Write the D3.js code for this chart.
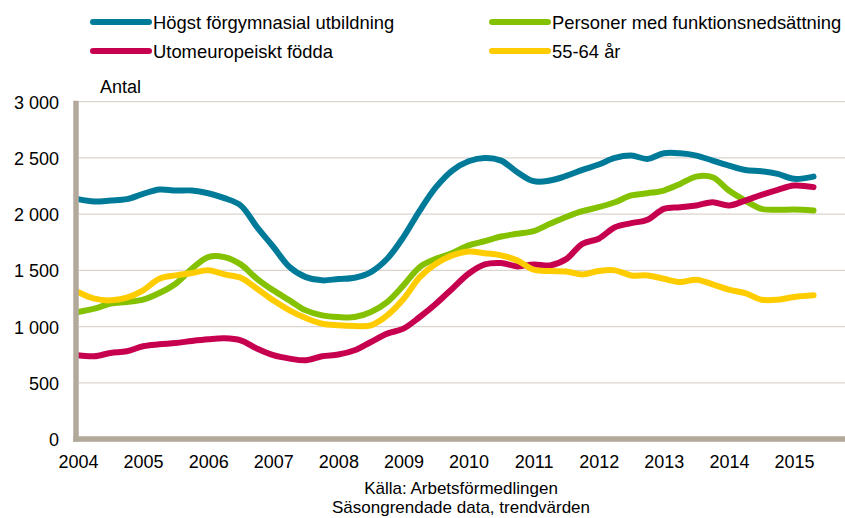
<!DOCTYPE html>
<html>
<head>
<meta charset="utf-8">
<script src="https://cdn.jsdelivr.net/npm/d3@7"></script>
<style>
  html, body { margin: 0; padding: 0; background: #fff; }
  svg { display: block; font-family: "Liberation Sans", Arial, sans-serif; }
</style>
</head>
<body>
<svg id="chart" width="845" height="518"></svg>
<script>
// ---- data ----
const time = [
  2004.0, 2004.25, 2004.5, 2004.75,
  2005.0, 2005.25, 2005.5, 2005.75,
  2006.0, 2006.25, 2006.5, 2006.75,
  2007.0, 2007.25, 2007.5, 2007.75,
  2008.0, 2008.25, 2008.5, 2008.75,
  2009.0, 2009.25, 2009.5, 2009.75,
  2010.0, 2010.25, 2010.5, 2010.75,
  2011.0, 2011.25, 2011.5, 2011.75,
  2012.0, 2012.25, 2012.5, 2012.75,
  2013.0, 2013.25, 2013.5, 2013.75,
  2014.0, 2014.25, 2014.5, 2014.75,
  2015.0, 2015.3
];
const hogstForgymnasial = [
  2133, 2112, 2121, 2133,
  2180, 2219, 2210, 2210,
  2186, 2142, 2077, 1884,
  1710, 1530, 1440, 1411,
  1423, 1434, 1485, 1603,
  1796, 2032, 2240, 2388,
  2470, 2500, 2476, 2373,
  2293, 2299, 2340, 2393,
  2441, 2500, 2521, 2491,
  2541, 2541, 2521, 2476,
  2432, 2393, 2382, 2358,
  2314, 2334
];
const utomeuropeiskt = [
  745, 736, 765, 780,
  825, 842, 854, 872,
  887, 896, 878, 804,
  745, 715, 700, 736,
  751, 789, 863, 937,
  982, 1085, 1203, 1337,
  1470, 1553, 1565, 1535,
  1553, 1544, 1600, 1736,
  1781, 1884, 1920, 1950,
  2047, 2062, 2077, 2106,
  2077, 2121, 2171, 2216,
  2254, 2240
];
const funktionsnedsattning = [
  1130, 1159, 1204, 1218,
  1239, 1298, 1381, 1514,
  1618, 1618, 1553, 1425,
  1322, 1233, 1144, 1100,
  1085, 1085, 1130, 1218,
  1366, 1529, 1603, 1653,
  1722, 1760, 1801, 1825,
  1849, 1914, 1975, 2026,
  2062, 2106, 2166, 2186,
  2210, 2269, 2334, 2328,
  2210, 2121, 2047, 2038,
  2041, 2032
];
const age5564 = [
  1307, 1248, 1233, 1257,
  1322, 1425, 1455, 1476,
  1500, 1464, 1434, 1337,
  1233, 1144, 1076, 1026,
  1011, 1005, 1011, 1100,
  1245, 1440, 1559, 1633,
  1668, 1653, 1633, 1588,
  1506, 1494, 1490, 1464,
  1494, 1500, 1455, 1455,
  1425, 1396, 1417, 1376,
  1328, 1298, 1239, 1239,
  1263, 1278
];
const seriesNames = ["Högst förgymnasial utbildning", "Personer med funktionsnedsättning", "Utomeuropeiskt födda", "55-64 år"];
const seriesValues = [hogstForgymnasial, funktionsnedsattning, utomeuropeiskt, age5564];
const seriesColors = ["#007a99", "#84c100", "#c6004f", "#ffcc00"];
const yTicks = [0, 500, 1000, 1500, 2000, 2500, 3000];
const xTicks = [2004, 2005, 2006, 2007, 2008, 2009, 2010, 2011, 2012, 2013, 2014, 2015];
const yTitle = "Antal";
const footer = ["Källa: Arbetsförmedlingen", "Säsongrendade data, trendvärden"];

// ---- layout ----
const svg = d3.select("#chart");
const x = d3.scaleLinear().domain([2004, 2015]).range([78, 794]);
const y = d3.scaleLinear().domain([0, 3000]).range([439, 101.7]);
const plotLeft = 76, plotRight = 845;
const axisColor = "#b3a99b";
const gridColor = "#dbd5ce";
const fontSize = 18;

const loc = d3.formatLocale({ decimal: ",", thousands: " ", grouping: [3], currency: ["", " kr"] });
const fmt = loc.format(",d");

// gridlines
svg.append("g").selectAll("line")
  .data(yTicks.filter(d => d > 0))
  .join("line")
  .attr("x1", plotLeft + 3).attr("x2", plotRight)
  .attr("y1", d => y(d)).attr("y2", d => y(d))
  .attr("stroke", gridColor).attr("stroke-width", 1.3);

// y axis labels
const yAxis = d3.axisLeft(y).tickValues(yTicks).tickFormat(fmt).tickSize(0).tickPadding(0);
const gy = svg.append("g").attr("transform", "translate(59,0)").call(yAxis);
gy.select(".domain").remove();
gy.selectAll("text")
  .attr("font-size", fontSize).attr("font-family", "Liberation Sans, Arial, sans-serif")
  .attr("fill", "#000").attr("dy", "0.36em").attr("x", 0);

// x axis labels
const xAxis = d3.axisBottom(x).tickValues(xTicks).tickFormat(d3.format("d")).tickSize(0).tickPadding(0);
const gx = svg.append("g").attr("transform", "translate(0,455)").call(xAxis);
gx.select(".domain").remove();
gx.selectAll("text")
  .attr("font-size", fontSize).attr("font-family", "Liberation Sans, Arial, sans-serif")
  .attr("fill", "#000").attr("dy", "0.72em").attr("y", 0);

// series lines
const line = d3.line()
  .x((d, i) => x(time[i]))
  .y(d => y(d))
  .curve(d3.curveCatmullRom.alpha(0.5));

svg.append("g").selectAll("path")
  .data(seriesValues)
  .join("path")
  .attr("d", d => line(d))
  .attr("fill", "none")
  .attr("stroke", (d, i) => seriesColors[i])
  .attr("stroke-width", 6)
  .attr("stroke-linecap", "round")
  .attr("stroke-linejoin", "round");

// axis frame
svg.append("line")
  .attr("x1", plotLeft).attr("x2", plotLeft)
  .attr("y1", y(3000) - 1).attr("y2", y(0) + 2.7)
  .attr("stroke", axisColor).attr("stroke-width", 5.5);
svg.append("line")
  .attr("x1", plotLeft - 2.7).attr("x2", plotRight)
  .attr("y1", y(0)).attr("y2", y(0))
  .attr("stroke", axisColor).attr("stroke-width", 5.5);

// y title
svg.append("text")
  .attr("x", 100).attr("y", 93)
  .attr("font-size", fontSize).attr("fill", "#000")
  .text(yTitle);

// legend
const legendPos = [[93, 22], [492, 22], [93, 51], [492, 51]];
const lg = svg.append("g").selectAll("g")
  .data(seriesNames)
  .join("g")
  .attr("transform", (d, i) => `translate(${legendPos[i][0]},${legendPos[i][1]})`);
lg.append("line")
  .attr("x1", 0).attr("x2", 56).attr("y1", 0).attr("y2", 0)
  .attr("stroke", (d, i) => seriesColors[i])
  .attr("stroke-width", 6).attr("stroke-linecap", "round");
lg.append("text")
  .attr("x", 60).attr("y", 0).attr("dy", "0.36em")
  .attr("font-size", 18.4).attr("fill", "#000")
  .text(d => d);

// footer
svg.append("g").selectAll("text")
  .data(footer)
  .join("text")
  .attr("x", 461).attr("y", (d, i) => 494 + i * 19)
  .attr("text-anchor", "middle")
  .attr("font-size", 17).attr("fill", "#000")
  .text(d => d);
</script>
</body>
</html>
